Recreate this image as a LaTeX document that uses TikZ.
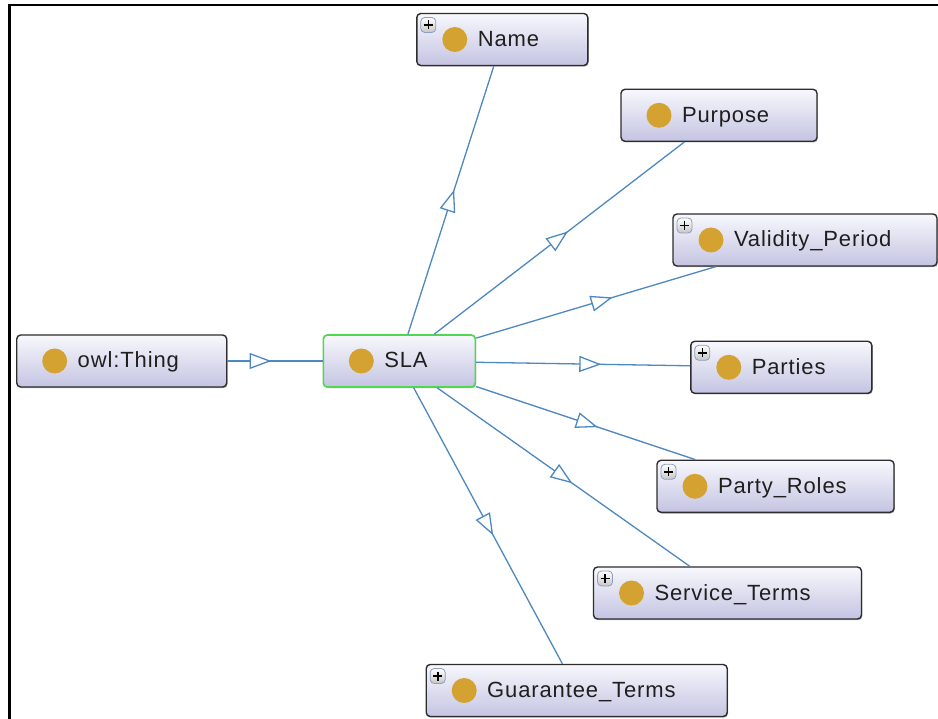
\documentclass[tikz,border=0pt]{standalone}
\usepackage{fontspec}
\newfontfamily\clsfont{Liberation Sans}[LetterSpace=4]
\usetikzlibrary{arrows.meta,decorations.markings,shadows}
\definecolor{bulletgold}{RGB}{212,162,48}
\definecolor{edgeblue}{RGB}{78,136,192}
\definecolor{boxtop}{RGB}{248,248,253}
\definecolor{boxbottom}{RGB}{196,196,226}
\definecolor{slagreen}{RGB}{80,215,80}
\definecolor{boxborder}{RGB}{45,45,45}
\definecolor{plusborder}{RGB}{140,160,185}
\newcommand\clsbullet{\fill[bulletgold] ([xshift=38pt]path picture bounding box.west) circle[radius=12.5pt];}
\newcommand\clsplus{%
  \draw[draw=plusborder, line width=0.8pt, top color=white, bottom color=gray!45]
    ([xshift=4pt,yshift=-4pt]path picture bounding box.north west) rectangle ++(15pt,-15pt);
  \draw[black, line width=1.6pt]
    ([xshift=7pt,yshift=-11.5pt]path picture bounding box.north west) -- ++(9pt,0pt)
    ([xshift=11.5pt,yshift=-7pt]path picture bounding box.north west) -- ++(0pt,-9pt);}
\tikzset{
  cls/.style={rectangle, rounded corners=4pt, draw=boxborder, line width=1.4pt,
    top color=boxtop, bottom color=boxbottom, minimum height=52pt,
    inner xsep=0pt, inner ysep=0pt, text width=#1, align=left,
    text height=16pt, text depth=2pt,
    font=\clsfont\fontsize{22pt}{26pt}\selectfont, text=black!88,
    drop shadow={shadow xshift=0.8pt, shadow yshift=-1.2pt, opacity=0.3, fill=black},
    execute at begin node={\hspace*{61pt}}, path picture={\clsbullet}},
  clsp/.style={cls=#1, path picture={\clsbullet\clsplus}},
  edge/.style={draw=edgeblue, line width=1.3pt},
  mid/.style={draw=none, color=edgeblue, line width=1.3pt, postaction={decorate},
    decoration={markings, mark=at position 0.5 with {\begin{scope}[xshift=11pt]\arrow{Triangle[length=22pt,width=16pt,fill=white]}\end{scope}}}}
}
\begin{document}
\begin{tikzpicture}[x=1pt,y=-1pt]
\useasboundingbox (0,0) rectangle (938,719);
\fill[white] (0,0) rectangle (938,719);
\draw[line width=2.2pt] (9.5,719) -- (9.5,5) -- (938,5);

\node[cls=210pt] (owl) at (121.7,361) {owl:Thing};
\node[cls=152pt, draw=slagreen, line width=1.6pt] (sla) at (399.3,361) {SLA};
\node[clsp=171pt] (name) at (502.3,39.5) {Name};
\node[cls=196pt] (purpose) at (719,115.3) {Purpose};
\node[clsp=264pt] (validity) at (805,240) {Validity\_Period};
\node[clsp=181pt] (parties) at (781.3,367.3) {Parties};
\node[clsp=237pt] (roles) at (775.5,486.3) {Party\_Roles};
\node[clsp=268pt] (service) at (727.5,593) {Service\_Terms};
\node[clsp=301pt] (guarantee) at (576.7,690.5) {Guarantee\_Terms};

\draw[edge] (owl) -- (sla);
\path[mid] (owl.center) -- (sla.center);
\foreach \c in {name,purpose,validity,parties,roles,service,guarantee}{
  \draw[edge] (sla) -- (\c);
  \path[mid] (sla.center) -- (\c.center);
}
\end{tikzpicture}
\end{document}
